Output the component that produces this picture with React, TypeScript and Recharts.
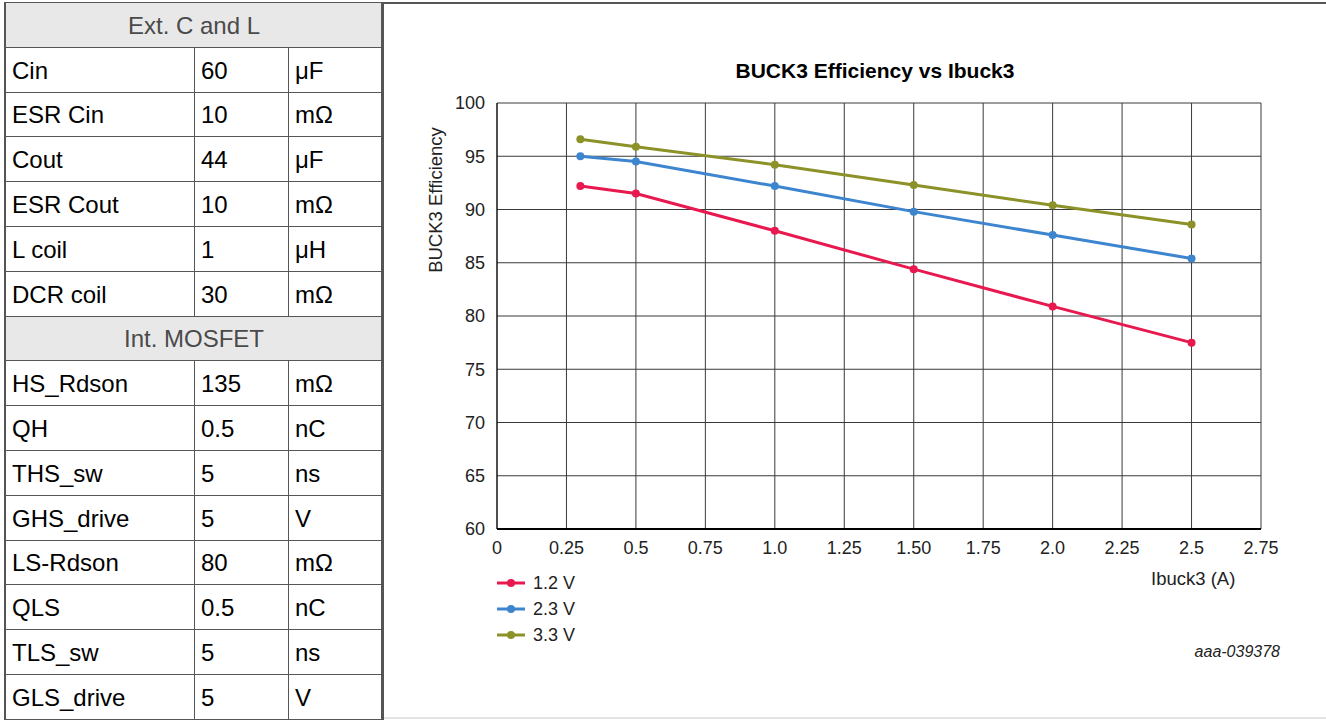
import React from "react";
import { LineChart, Line, XAxis, YAxis, CartesianGrid } from "recharts";

// ---- Table data ----
const extTitle = "Ext. C and L";
const extNames = ["Cin", "ESR Cin", "Cout", "ESR Cout", "L coil", "DCR coil"];
const extValues = ["60", "10", "44", "10", "1", "30"];
const extUnits = ["μF", "mΩ", "μF", "mΩ", "μH", "mΩ"];

const intTitle = "Int. MOSFET";
const intNames = ["HS_Rdson", "QH", "THS_sw", "GHS_drive", "LS-Rdson", "QLS", "TLS_sw", "GLS_drive"];
const intValues = ["135", "0.5", "5", "5", "80", "0.5", "5", "5"];
const intUnits = ["mΩ", "nC", "ns", "V", "mΩ", "nC", "ns", "V"];

// ---- Chart data ----
const currents = [0.3, 0.5, 1.0, 1.5, 2.0, 2.5];
const eff12 = [92.2, 91.5, 88.0, 84.4, 80.9, 77.5];
const eff23 = [95.0, 94.5, 92.2, 89.8, 87.6, 85.4];
const eff33 = [96.6, 95.9, 94.2, 92.3, 90.4, 88.6];
const seriesNames = ["1.2 V", "2.3 V", "3.3 V"];
const seriesColors = ["#e8194f", "#3d85cf", "#8c9128"];

const xTicks = [0, 0.25, 0.5, 0.75, 1.0, 1.25, 1.5, 1.75, 2.0, 2.25, 2.5, 2.75];
const xTickLabels = ["0", "0.25", "0.5", "0.75", "1.0", "1.25", "1.50", "1.75", "2.0", "2.25", "2.5", "2.75"];
const yTicks = [60, 65, 70, 75, 80, 85, 90, 95, 100];

const chartTitle = "BUCK3 Efficiency vs Ibuck3";
const yLabel = "BUCK3 Efficiency";
const xLabel = "Ibuck3 (A)";
const figId = "aaa-039378";

const data = currents.map((c, i) => ({ x: c, s0: eff12[i], s1: eff23[i], s2: eff33[i] }));

const FONT = "'Liberation Sans', Arial, Helvetica, sans-serif";

type Row = { kind: "header"; text: string } | { kind: "row"; name: string; value: string; unit: string };

const rows: Row[] = [
  { kind: "header", text: extTitle },
  ...extNames.map((n, i) => ({ kind: "row" as const, name: n, value: extValues[i], unit: extUnits[i] })),
  { kind: "header", text: intTitle },
  ...intNames.map((n, i) => ({ kind: "row" as const, name: n, value: intValues[i], unit: intUnits[i] })),
];

const TABLE_TOP = 3;
const ROW_H = 44.8;
const COL_X = [5, 195, 289, 383];
const BORDER = "#555";
const TABLE_FONT = 24;

function Table() {
  const els: React.ReactNode[] = [];
  rows.forEach((r, i) => {
    const top = Math.round(TABLE_TOP + ROW_H * i);
    const bottom = Math.round(TABLE_TOP + ROW_H * (i + 1));
    const h = bottom - top;
    if (r.kind === "header") {
      els.push(
        <div
          key={"h" + i}
          style={{
            position: "absolute",
            left: COL_X[0],
            top,
            width: COL_X[3] - COL_X[0],
            height: h,
            background: "#e8e8e8",
            color: "#4a4a4a",
            fontSize: TABLE_FONT,
            lineHeight: h + "px",
            textAlign: "center",
          }}
        >
          {r.text}
        </div>
      );
    } else {
      const cells = [r.name, r.value, r.unit];
      cells.forEach((t, c) => {
        els.push(
          <div
            key={"c" + i + "-" + c}
            style={{
              position: "absolute",
              left: COL_X[c] + (c === 0 ? 7 : 6),
              top,
              height: h,
              color: "#000",
              fontSize: TABLE_FONT,
              lineHeight: h + "px",
              whiteSpace: "nowrap",
            }}
          >
            {t}
          </div>
        );
      });
      [1, 2].forEach((c) => {
        els.push(
          <div
            key={"v" + i + "-" + c}
            style={{ position: "absolute", left: COL_X[c] - 1, top, width: 1, height: h, background: BORDER }}
          />
        );
      });
    }
    els.push(
      <div
        key={"b" + i}
        style={{ position: "absolute", left: COL_X[0], top: bottom - 1, width: COL_X[3] - COL_X[0], height: 1, background: BORDER }}
      />
    );
  });
  return (
    <>
      {els}
      <div style={{ position: "absolute", left: 4, top: 3, width: 2, height: 717, background: BORDER }} />
      <div style={{ position: "absolute", left: 381, top: 3, width: 3, height: 717, background: BORDER }} />
    </>
  );
}

const CHART_LEFT = 383;
const CHART_W = 943;
const CHART_H = 720;

function Legend() {
  return (
    <>
      {seriesNames.map((n, i) => (
        <div
          key={n}
          style={{
            position: "absolute",
            left: 497,
            top: 583 + i * 26 - 11,
            height: 22,
            display: "flex",
            alignItems: "center",
          }}
        >
          <svg width={28} height={12} style={{ display: "block" }}>
            <line x1={0} y1={6} x2={28} y2={6} stroke={seriesColors[i]} strokeWidth={3} />
            <circle cx={14} cy={6} r={4} fill={seriesColors[i]} />
          </svg>
          <span style={{ marginLeft: 8, fontSize: 18, color: "#222" }}>{n}</span>
        </div>
      ))}
    </>
  );
}

export default function App() {
  return (
    <div
      style={{
        position: "absolute",
        left: 0,
        top: 0,
        width: 1326,
        height: 720,
        background: "#fff",
        fontFamily: FONT,
        overflow: "hidden",
      }}
    >
      <div style={{ position: "absolute", left: 4, top: 2, width: 1322, height: 2, background: BORDER }} />
      <div style={{ position: "absolute", left: 383, top: 717, width: 943, height: 2, background: "#e4e4e4" }} />
      <Table />

      <div style={{ position: "absolute", left: CHART_LEFT, top: 0 }}>
        <LineChart
          width={CHART_W}
          height={CHART_H}
          data={data}
          margin={{ top: 103, right: 65, bottom: 161, left: 54 }}
        >
          <CartesianGrid stroke="#3a3a3a" strokeWidth={1} />
          <XAxis
            dataKey="x"
            type="number"
            domain={[0, 2.75]}
            ticks={xTicks}
            tickFormatter={(v: number) => xTickLabels[xTicks.indexOf(v)] ?? String(v)}
            interval={0}
            height={30}
            axisLine={{ stroke: "#000", strokeWidth: 2 }}
            tickLine={false}
            tickMargin={6}
            tick={{ fill: "#222", fontSize: 18, fontFamily: FONT }}
          />
          <YAxis
            type="number"
            domain={[60, 100]}
            ticks={yTicks}
            interval={0}
            width={60}
            axisLine={{ stroke: "#000", strokeWidth: 1 }}
            tickLine={false}
            tickMargin={6}
            tick={{ fill: "#222", fontSize: 18, fontFamily: FONT }}
          />
          {["s0", "s1", "s2"].map((k, i) => (
            <Line
              key={k}
              dataKey={k}
              name={seriesNames[i]}
              type="linear"
              stroke={seriesColors[i]}
              strokeWidth={3}
              dot={{ r: 4, fill: seriesColors[i], stroke: seriesColors[i], strokeWidth: 0 }}
              activeDot={false}
              isAnimationActive={false}
            />
          ))}
        </LineChart>
      </div>

      <div
        style={{
          position: "absolute",
          left: 500,
          width: 750,
          top: 59,
          textAlign: "center",
          fontSize: 21,
          fontWeight: "bold",
          color: "#000",
        }}
      >
        {chartTitle}
      </div>
      <div
        style={{
          position: "absolute",
          left: 436,
          top: 200,
          transform: "translate(-50%, -50%) rotate(-90deg)",
          fontSize: 18.5,
          whiteSpace: "nowrap",
          color: "#222",
        }}
      >
        {yLabel}
      </div>
      <div style={{ position: "absolute", left: 1151, top: 568, fontSize: 18.5, color: "#222", whiteSpace: "nowrap" }}>
        {xLabel}
      </div>
      <Legend />
      <div
        style={{
          position: "absolute",
          right: 46,
          top: 643,
          fontSize: 16,
          fontStyle: "italic",
          color: "#222",
        }}
      >
        {figId}
      </div>
    </div>
  );
}
